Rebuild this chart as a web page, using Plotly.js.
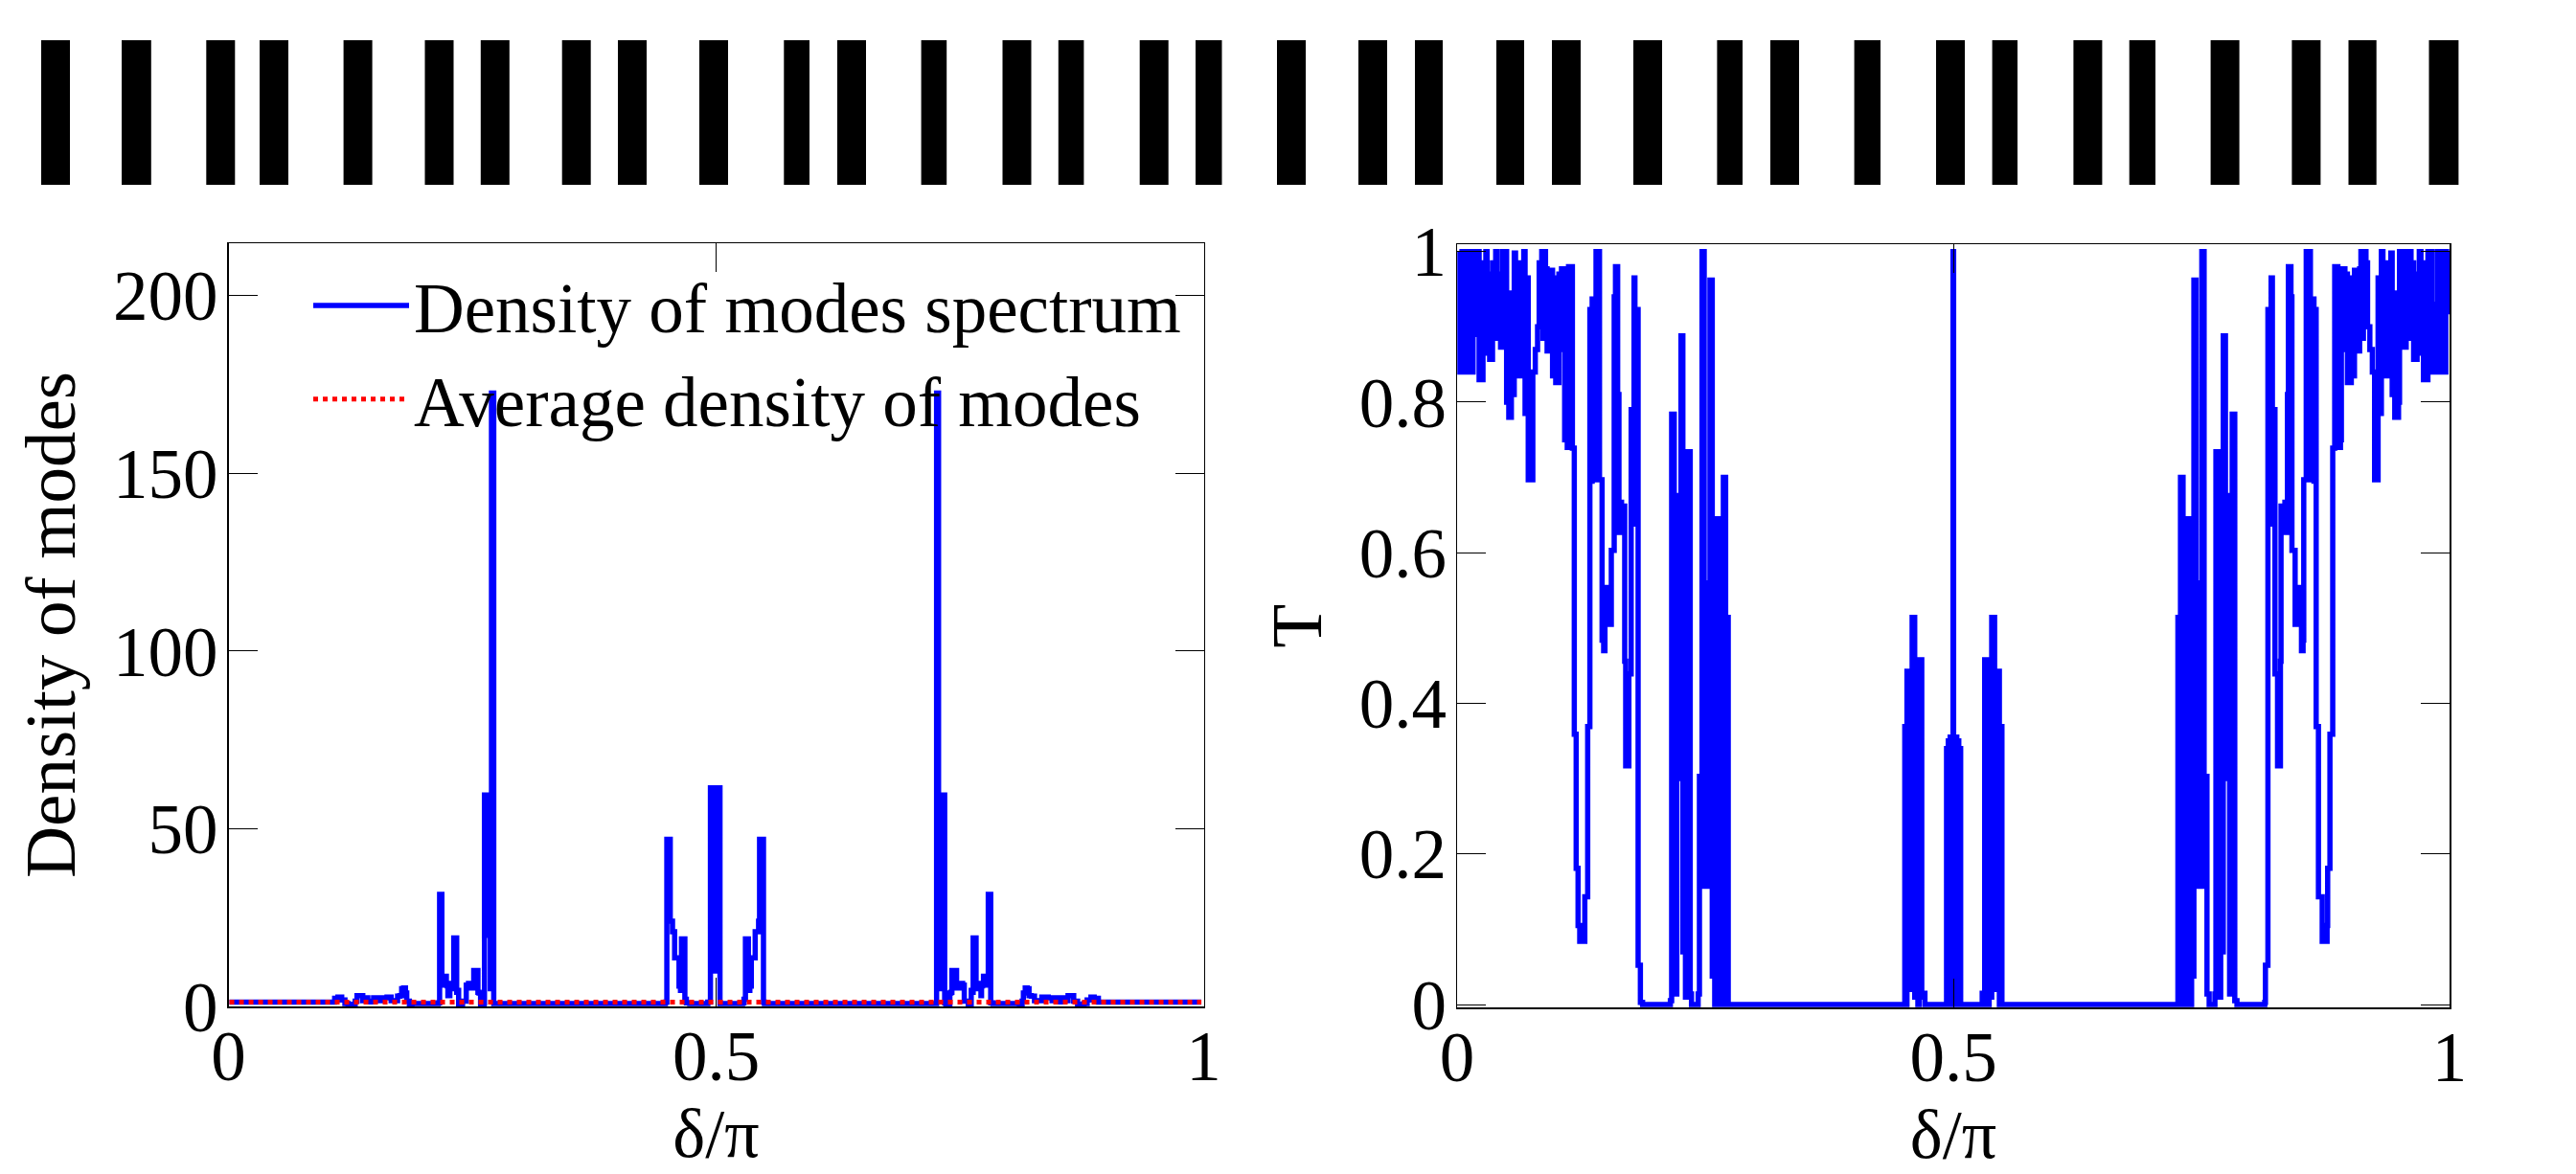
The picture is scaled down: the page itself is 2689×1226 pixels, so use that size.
<!DOCTYPE html>
<html><head><meta charset="utf-8">
<script src="https://cdn.plot.ly/plotly-3.0.1.min.js"></script>
<style>html,body{margin:0;padding:0;background:#fff}</style></head>
<body><div id="chart" style="width:2689px;height:1226px"></div>
<script>
// Layer structure (start and thickness along the stack)
const layerStart=[43,127,215.3,271,358.6,443.5,501.8,586.7,645,730,818.3,874,961.6,1046.5,1104.8,1189.7,1248,1333,1418,1477,1562,1620,1705,1792.4,1848,1935.6,2021,2079.6,2164.4,2222.7,2307.6,2392.4,2451.5,2535.5];
const layerThickness=[30,30.8,30,30,30,30,30,30,30,30,26.7,30,26.6,30,26.6,30,27.5,30,30,29,29,30,30,26.6,30,27.4,30,26.4,30,27.3,30,30,29.2,30.9];

// Density of modes spectrum
const densityX=[0.001,0.1046,0.1089,0.1122,0.1161,0.1194,0.1227,0.1259,0.1299,0.1318,0.1357,0.1377,0.1406,0.1429,0.1455,0.1488,0.1521,0.156,0.1626,0.1668,0.1701,0.1734,0.1757,0.1776,0.1796,0.1815,0.1828,0.1855,0.1881,0.2127,0.215,0.2165,0.2175,0.2188,0.2198,0.2208,0.2224,0.2234,0.2244,0.225,0.227,0.2283,0.23,0.231,0.233,0.234,0.235,0.236,0.238,0.24,0.2421,0.2438,0.2461,0.2487,0.25,0.2515,0.2548,0.2558,0.2569,0.2585,0.261,0.2622,0.2625,0.2636,0.2645,0.2655,0.267,0.2685,0.2697,0.2705,0.272,0.447,0.448,0.4495,0.452,0.453,0.4553,0.4565,0.4575,0.4605,0.462,0.4635,0.4645,0.4665,0.468,0.4695,0.473,0.4905,0.4915,0.493,0.4942,0.4958,0.4972,0.4985,0.4998,0.5012,0.5027,0.504,0.5236,0.5271,0.5286,0.5301,0.5321,0.5331,0.5346,0.5361,0.5391,0.5401,0.5413,0.5436,0.5446,0.5471,0.5486,0.5496,0.7246,0.7261,0.7269,0.7281,0.7296,0.7311,0.7321,0.733,0.7341,0.7344,0.7356,0.7381,0.7397,0.7408,0.7418,0.7451,0.7466,0.7479,0.7505,0.7528,0.7545,0.7566,0.7586,0.7606,0.7616,0.7626,0.7636,0.7656,0.7666,0.7683,0.7696,0.7716,0.7722,0.7732,0.7742,0.7758,0.7768,0.7778,0.7791,0.7801,0.7816,0.7839,0.8085,0.8111,0.8138,0.8151,0.817,0.819,0.8209,0.8232,0.8265,0.8298,0.834,0.8406,0.8445,0.8478,0.8511,0.8537,0.856,0.8589,0.8609,0.8648,0.8667,0.8707,0.8739,0.8772,0.8805,0.8844,0.8877,0.892,0.9976];
const densityY=[1.2,1.2,2.3,2.6,1.8,0.8,0.1,0.6,1.5,3,3,1.6,2.4,1.5,1.3,2.4,1.6,2.4,2.6,1.6,1.6,2.9,3,5,5.2,3.8,1.5,0.6,0.8,0.8,1,31.5,31.5,6,6.5,8.5,8.5,6.5,5.8,3,6.5,5,5,19.3,19.3,4,4.5,0.5,0.2,1.5,1.5,6,6.5,5.2,5.2,10.1,10.1,4,3.8,0.6,0.6,1,59.5,59.5,20,44,44,5,172.6,172.6,0.8,0.8,1.2,47,47,24,21,21,13.7,13.7,5.7,4.5,19,19,2,1,0.8,0.8,1.2,1.2,61.5,61.5,10,19,10,61.5,61.5,0.8,0.8,1,2,19,19,4.5,5.7,13.7,13.7,21,21,24,47,47,1.2,0.8,0.8,172.6,172.6,5,44,44,20,59.5,59.5,1,0.6,0.6,3.8,4,10.1,10.1,5.2,5.2,6.5,6,1.5,1.5,0.2,0.5,4.5,4,19.3,19.3,5,5,6.5,3,5.8,6.5,8.5,8.5,6.5,6,31.5,31.5,1,0.8,0.8,0.6,1.5,3.8,5.2,5,3,2.9,1.6,1.6,2.6,2.4,1.6,2.4,1.3,1.5,2.4,1.6,3,3,1.5,0.6,0.1,0.8,1.8,2.6,2.3,1.2,1.2];

// Average density of modes
const averageX=[0.001,0.9976];
const averageY=[1.2,1.2];

// Transmission spectrum
const transmissionX=[0.0023,0.0029,0.0055,0.008,0.009,0.0106,0.0125,0.0151,0.0161,0.0177,0.0187,0.0203,0.0222,0.0248,0.0261,0.0273,0.029,0.0302,0.0312,0.0328,0.0347,0.0357,0.0373,0.0389,0.0402,0.0422,0.0438,0.0457,0.0473,0.0489,0.0499,0.0521,0.0537,0.0547,0.0563,0.0576,0.0589,0.0611,0.0618,0.0631,0.0637,0.0656,0.0672,0.0685,0.0705,0.0717,0.074,0.0763,0.0788,0.0811,0.0827,0.0853,0.0866,0.0878,0.0891,0.0907,0.0917,0.093,0.0943,0.0962,0.0975,0.0994,0.1014,0.1026,0.1039,0.1052,0.1065,0.1075,0.1084,0.111,0.1123,0.1142,0.1162,0.1181,0.119,0.12,0.1213,0.1219,0.1236,0.1268,0.1287,0.1306,0.1316,0.1329,0.1338,0.1351,0.1361,0.1377,0.1387,0.14,0.1429,0.1435,0.1454,0.1461,0.1477,0.149,0.1499,0.1512,0.1522,0.1541,0.1554,0.1573,0.1583,0.1596,0.1609,0.1618,0.1631,0.1644,0.1657,0.1673,0.1683,0.1689,0.1699,0.1718,0.1731,0.1744,0.1754,0.177,0.1783,0.1792,0.1805,0.1815,0.1824,0.184,0.1847,0.1869,0.2127,0.2149,0.2162,0.2175,0.2188,0.2201,0.2214,0.223,0.2243,0.2256,0.2265,0.2275,0.2291,0.2301,0.2317,0.2326,0.2339,0.2349,0.2362,0.2407,0.2429,0.2442,0.2458,0.2468,0.2481,0.249,0.2503,0.2516,0.2529,0.2539,0.2548,0.2561,0.2571,0.2584,0.2596,0.2609,0.2622,0.2632,0.2645,0.2658,0.267,0.2683,0.2696,0.2706,0.2722,0.2732,0.4495,0.4511,0.4521,0.4533,0.4546,0.4559,0.4569,0.4585,0.4598,0.4611,0.4624,0.4643,0.4656,0.4669,0.4682,0.4694,0.4714,0.4916,0.4932,0.4942,0.4949,0.4958,0.4968,0.4977,0.4984,0.499,0.4997,0.5003,0.5009,0.5019,0.5026,0.5035,0.5045,0.5055,0.5061,0.5074,0.5271,0.5291,0.5303,0.5316,0.5329,0.5342,0.5361,0.5374,0.5387,0.54,0.5416,0.5426,0.5439,0.5452,0.5464,0.5474,0.549,0.7253,0.7263,0.7279,0.7289,0.7302,0.7315,0.7327,0.734,0.7353,0.7363,0.7376,0.7389,0.7401,0.7414,0.7424,0.7437,0.7446,0.7456,0.7469,0.7482,0.7495,0.7504,0.7517,0.7527,0.7543,0.7556,0.7578,0.7623,0.7636,0.7646,0.7659,0.7668,0.7684,0.7694,0.771,0.772,0.7729,0.7742,0.7755,0.7771,0.7784,0.7797,0.781,0.7823,0.7836,0.7858,0.8116,0.8138,0.8145,0.8161,0.817,0.818,0.8193,0.8202,0.8215,0.8231,0.8241,0.8254,0.8267,0.8286,0.8296,0.8302,0.8312,0.8328,0.8341,0.8354,0.8367,0.8376,0.8389,0.8402,0.8412,0.8431,0.8444,0.8463,0.8473,0.8486,0.8495,0.8508,0.8524,0.8531,0.855,0.8556,0.8585,0.8598,0.8608,0.8624,0.8634,0.8647,0.8656,0.8669,0.8679,0.8698,0.8717,0.8749,0.8766,0.8772,0.8785,0.8795,0.8804,0.8823,0.8843,0.8862,0.8875,0.8901,0.891,0.892,0.8933,0.8946,0.8959,0.8971,0.8991,0.901,0.9023,0.9042,0.9055,0.9068,0.9078,0.9094,0.9107,0.9119,0.9132,0.9158,0.9174,0.9197,0.9222,0.9245,0.9268,0.928,0.93,0.9313,0.9329,0.9348,0.9354,0.9367,0.9374,0.9396,0.9409,0.9422,0.9438,0.9448,0.9464,0.9486,0.9496,0.9512,0.9528,0.9547,0.9563,0.9583,0.9596,0.9612,0.9628,0.9638,0.9657,0.9673,0.9683,0.9695,0.9712,0.9724,0.9737,0.9763,0.9782,0.9798,0.9808,0.9824,0.9834,0.986,0.9879,0.9895,0.9905,0.993,0.9956,0.9962,0.997,0.9982];
const transmissionT=[1,0.84,0.84,1,0.9,1,0.84,0.84,0.93,1,0.89,1,0.83,0.83,0.985,0.865,1,0.872,0.97,0.857,0.857,0.985,0.885,1,0.885,0.97,0.873,1,0.905,1,0.8,0.78,0.78,0.945,0.81,0.998,0.868,0.835,0.985,0.835,0.97,0.85,1,0.785,0.965,0.697,0.697,0.84,0.87,0.9,0.985,1,0.885,1,0.977,0.868,0.965,0.868,0.975,0.835,0.965,0.826,0.826,0.97,0.87,0.977,0.977,0.92,0.75,0.74,0.98,0.98,0.739,0.359,0.359,0.181,0.181,0.105,0.084,0.084,0.143,0.143,0.369,0.369,0.923,0.695,0.937,0.937,0.697,1,1,0.697,0.697,0.484,0.47,0.554,0.505,0.554,0.505,0.505,0.603,0.603,0.94,0.98,0.98,0.81,0.627,0.667,0.627,0.662,0.662,0.456,0.317,0.317,0.439,0.439,0.79,0.79,0.965,0.638,0.923,0.923,0.052,0.052,0.003,0,0,0.005,0.784,0.784,0.3,0.014,0.3,0.676,0.676,0.888,0.888,0.07,0.07,0.01,0.01,0.734,0.734,0.014,0,0,0.014,0.303,0.303,1,1,0.157,0.56,0.157,0.56,0.157,0.962,0.962,0.038,0.038,0,0,0.645,0.645,0,0.645,0,0.7,0.7,0,0.514,0,0,0.369,0,0.4425,0.02,0.4425,0.02,0.514,0.514,0.01,0.01,0,0.458,0.458,0.01,0.015,0,0,0.34,0,0.35,0,0.355,0,0.355,0.1,1,0.1,0.355,0,0.355,0,0.35,0,0.34,0,0,0.015,0.01,0.458,0.458,0,0.01,0.01,0.514,0.514,0.02,0.4425,0.02,0.4425,0,0.369,0,0,0.514,0,0.7,0.7,0,0.645,0,0.645,0.645,0,0,0.038,0.038,0.962,0.962,0.157,0.56,0.157,0.56,0.157,1,1,0.303,0.303,0.014,0,0,0.014,0.734,0.734,0.01,0.01,0.07,0.07,0.888,0.888,0.676,0.676,0.3,0.014,0.3,0.784,0.784,0.005,0,0,0.003,0.052,0.052,0.923,0.923,0.638,0.965,0.79,0.79,0.439,0.439,0.317,0.317,0.456,0.662,0.662,0.627,0.667,0.627,0.81,0.98,0.98,0.94,0.603,0.603,0.505,0.505,0.554,0.505,0.554,0.47,0.484,0.697,0.697,1,1,0.697,0.937,0.937,0.695,0.923,0.369,0.369,0.143,0.143,0.084,0.084,0.105,0.181,0.181,0.359,0.359,0.739,0.98,0.98,0.74,0.75,0.92,0.977,0.977,0.87,0.97,0.826,0.826,0.965,0.835,0.975,0.868,0.965,0.868,0.977,1,0.885,1,0.985,0.9,0.87,0.84,0.697,0.697,0.965,0.785,1,0.85,0.97,0.835,0.985,0.835,0.868,0.998,0.81,0.945,0.78,0.78,0.8,1,0.905,1,0.873,0.97,0.885,1,0.885,0.985,0.857,0.857,0.97,0.872,1,0.865,0.985,0.83,0.83,1,0.89,1,0.93,0.84,0.84,1,0.9,1,0.84,0.84,1,0.92,1];

const dosTicks=[0,50,100,150,200];
const tTicks=[0,0.2,0.4,0.6,0.8,1];
const tTickText=['0','0.2','0.4','0.6','0.8','1'];
const xTicks=[0,0.5,1];
const xTickText=['0','0.5','1'];

const W=2689,H=1226,FONT='"Liberation Serif","Times New Roman",serif';
const fx=p=>p/W, fy=p=>1-p/H;
const axisCommon={showgrid:false,zeroline:false,showline:true,linecolor:'#000',linewidth:1.5,
  mirror:'ticks',ticks:'inside',ticklen:30,tickwidth:1,tickcolor:'#000',
  tickfont:{family:FONT,size:73,color:'#000'},automargin:false};
const traces=[
 {type:'bar',x:layerStart,base:0,y:layerStart.map(()=>1),width:layerThickness,offset:0,xaxis:'x3',yaxis:'y3',
  marker:{color:'#000',line:{width:0}},showlegend:false,hoverinfo:'skip'},
 {type:'scatter',mode:'lines',x:densityX,y:densityY,name:'Density of modes spectrum',xaxis:'x',yaxis:'y',
  line:{color:'#0000ff',width:5.5,shape:'hv',simplify:false}},
 {type:'scatter',mode:'lines',x:averageX,y:averageY,name:'Average density of modes',xaxis:'x',yaxis:'y',
  line:{color:'#ff0000',width:5,dash:'dot'}},
 {type:'scatter',mode:'lines',x:transmissionX,y:transmissionT,xaxis:'x2',yaxis:'y2',showlegend:false,
  line:{color:'#0000ff',width:5.5,shape:'hv',simplify:false}}
];
const layout={width:W,height:H,margin:{l:0,r:0,t:0,b:0},paper_bgcolor:'#fff',plot_bgcolor:'rgba(0,0,0,0)',
 showlegend:true,font:{family:FONT,color:'#000'},
 legend:{x:fx(322),y:fy(265),xanchor:'left',yanchor:'top',bgcolor:'rgba(0,0,0,0)',borderwidth:0,itemwidth:100,
   font:{family:FONT,size:73,color:'#000'},tracegroupgap:0},
 xaxis:Object.assign({},axisCommon,{domain:[fx(238.5),fx(1256.5)],range:[0,1],anchor:'y',tickvals:xTicks,ticktext:xTickText,ticklabelstandoff:-12,
   title:{text:'δ/π',font:{family:FONT,size:72,color:'#000'},standoff:3}}),
 yaxis:Object.assign({},axisCommon,{domain:[fy(1051),fy(254)],range:[0,214.8],anchor:'x',tickvals:dosTicks,ticktext:dosTicks.map(String),ticklabelstandoff:-5,
   title:{text:'Density of modes',font:{family:FONT,size:75,color:'#000'},standoff:14}}),
 xaxis2:Object.assign({},axisCommon,{domain:[fx(1521),fx(2557)],range:[0,1],anchor:'y2',tickvals:xTicks,ticktext:xTickText,ticklabelstandoff:-12,
   title:{text:'δ/π',font:{family:FONT,size:72,color:'#000'},standoff:3}}),
 yaxis2:Object.assign({},axisCommon,{domain:[fy(1052),fy(255)],range:[-0.0038,1.0098],anchor:'x2',tickvals:tTicks,ticktext:tTickText,ticklabelstandoff:-5,
   title:{text:'T',font:{family:FONT,size:75,color:'#000'},standoff:14}}),
 xaxis3:{domain:[0,1],range:[0,W],anchor:'y3',visible:false,fixedrange:true},
 yaxis3:{domain:[fy(193),fy(42)],range:[0,1],anchor:'x3',visible:false,fixedrange:true}
};
Plotly.newPlot('chart',traces,layout,{displayModeBar:false,staticPlot:true});
</script></body></html>
